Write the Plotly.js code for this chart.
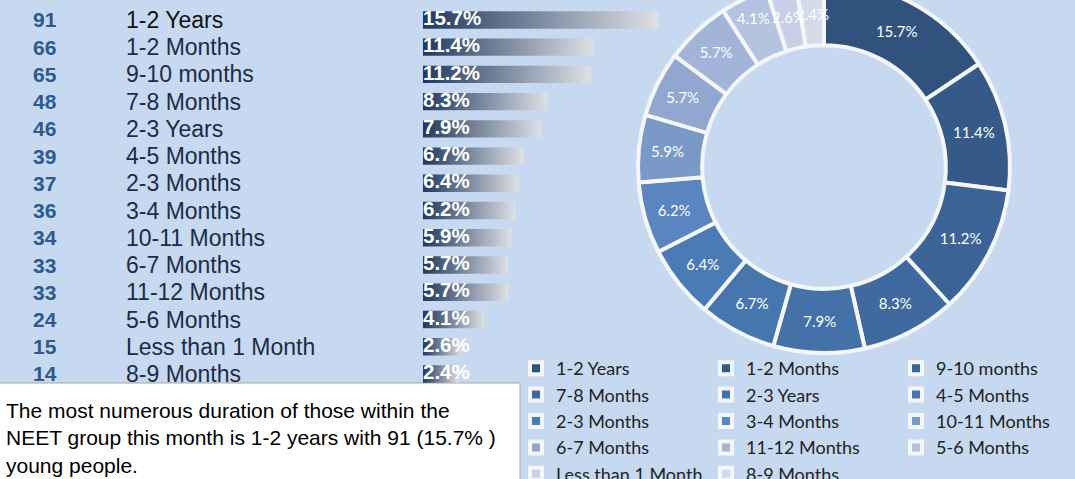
<!DOCTYPE html>
<html><head><meta charset="utf-8">
<script src="https://cdn.plot.ly/plotly-3.0.1.min.js"></script>
<style>
html,body{margin:0;padding:0;background:#C6D9F1;overflow:hidden;width:1075px;height:479px}
#chart{position:absolute;left:0;top:-25px;width:1130px;height:540px}
</style>
</head><body><div id="chart"></div>
<script>
const categories = ['1-2 Years','1-2 Months','9-10 months','7-8 Months','2-3 Years','4-5 Months','2-3 Months','3-4 Months','10-11 Months','6-7 Months','11-12 Months','5-6 Months','Less than 1 Month','8-9 Months'];
const counts = [91,66,65,48,46,39,37,36,34,33,33,24,15,14];
const percents = [15.7,11.4,11.2,8.3,7.9,6.7,6.4,6.2,5.9,5.7,5.7,4.1,2.6,2.4];
const sliceColors = ['#31527C','#355A87','#3B6396','#3F699F','#4471A7','#4776AF','#4A7BB7','#5A85C0','#7B99C6','#92A7D0','#A2B4D7','#B4C3DF','#C6D0E6','#D4DBEB'];
const summaryText = 'The most numerous duration of those within the<br>NEET group this month is 1-2 years with 91 (15.7% )<br>young people.';

const W = 1130, H = 540, ML = 420, MR = W - 1075, GW = 1075 - ML;
const px = s => (s - ML) / GW;          // screen x -> paper x
const py = s => (H - (s + 25)) / H;      // screen y -> paper y

// donut geometry (screen px)
const CX = 824, CY = 167, R = 186, HOLE = 0.655;

const traces = [];
const hh = 0.32;
percents.forEach((p, i) => {
  traces.push({
    type: 'scatter', mode: 'lines', x: [0, p, p, 0, 0], y: [i - hh, i - hh, i + hh, i + hh, i - hh],
    fill: 'toself', line: {width: 0},
    fillgradient: {type: 'horizontal', colorscale: [[0, '#1F395E'], [1, '#DEE0E4']]},
    hoverinfo: 'skip', showlegend: false, xaxis: 'x', yaxis: 'y'
  });
});
traces.push({
  type: 'scatter', mode: 'text', x: percents.map(() => 0), y: percents.map((_, i) => i),
  text: percents.map(p => p.toFixed(1) + '%'), textposition: 'middle right',
  textfont: {family: 'Liberation Sans, Arial', size: 20.5, color: '#FFFFFF', weight: 'bold'},
  hoverinfo: 'skip', showlegend: false
});
const total = counts.reduce((a, b) => a + b, 0);
const small = counts.map(c => c / total < 0.03);
traces.push({
  type: 'pie', labels: categories, values: counts, sort: false, direction: 'clockwise', rotation: 0,
  hole: HOLE, marker: {colors: sliceColors, line: {color: '#F4F6F9', width: 4}},
  texttemplate: small.map(s => s ? ' ' : '%{percent:.1%}'), textposition: 'inside', insidetextorientation: 'horizontal',
  textfont: {family: 'Lato, Noto Sans', size: 15, color: '#FFFFFF'},
  domain: {x: [px(CX - R), px(CX + R)], y: [py(CY + R), py(CY - R)]},
  hoverinfo: 'skip'
});

const annotations = [];
categories.forEach((c, i) => {
  annotations.push({xref: 'paper', yref: 'y', x: px(31), y: i, xanchor: 'left', yanchor: 'middle', showarrow: false,
    text: String(counts[i]), font: {family: 'Liberation Sans, Arial', size: 21, color: '#2C5A8F', weight: 'bold'}});
  annotations.push({xref: 'paper', yref: 'y', x: px(124), y: i, xanchor: 'left', yanchor: 'middle', showarrow: false,
    text: c, font: {family: 'Liberation Sans, Arial', size: 23, color: i === 0 ? '#111111' : '#1C2C45'}});
});
// labels of the thin slices: full-size text at mid-ring, as in the original
let cum = 0;
counts.forEach((c, i) => {
  const mid = (cum + c / 2) / total;
  cum += c;
  if (!small[i]) return;
  const th = mid * 2 * Math.PI, rm = R * (1 + HOLE) / 2;
  annotations.push({xref: 'paper', yref: 'paper', x: px(CX + rm * Math.sin(th)), y: py(CY - rm * Math.cos(th)),
    xanchor: 'center', yanchor: 'middle', showarrow: false, text: (100 * c / total).toFixed(1) + '%',
    font: {family: 'Lato, Noto Sans', size: 15, color: '#FFFFFF'}});
});
annotations.push({xref: 'paper', yref: 'paper', x: px(4), y: py(397), xanchor: 'left', yanchor: 'top', align: 'left',
  showarrow: false, text: summaryText, font: {family: 'Liberation Sans, Arial', size: 21, color: '#000000'}});

const layout = {
  width: W, height: H, margin: {l: ML, r: MR, t: 0, b: 0},
  paper_bgcolor: '#C6D9F1', plot_bgcolor: 'rgba(0,0,0,0)',
  xaxis: {domain: [0, 0.4], range: [-0.2, 17.3], visible: false, fixedrange: true},
  yaxis: {domain: [py(387.6), py(6.3)], range: [13.5, -0.5], visible: false, fixedrange: true},
  showlegend: true,
  legend: {orientation: 'h', x: px(516), y: py(350), xanchor: 'left', yanchor: 'top',
    entrywidth: 145, entrywidthmode: 'pixels', bgcolor: 'rgba(0,0,0,0)',
    font: {family: 'Lato, Noto Sans', size: 18, color: '#222222'}},
  shapes: [{type: 'rect', xref: 'paper', yref: 'paper', x0: px(-2), x1: px(520), y0: py(510), y1: py(383),
    fillcolor: '#FFFFFF', line: {color: '#A6A6A6', width: 1}, layer: 'below'}],
  annotations: annotations
};
Plotly.newPlot('chart', traces, layout, {staticPlot: true, displayModeBar: false});
</script>
</body></html>
